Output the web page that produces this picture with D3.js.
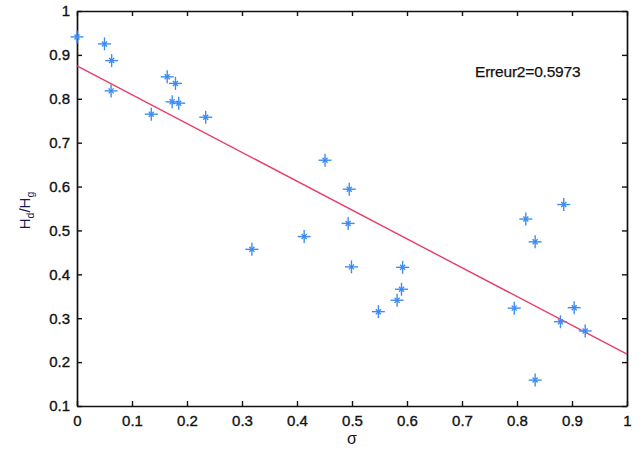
<!DOCTYPE html>
<html>
<head>
<meta charset="utf-8">
<script src="https://cdn.jsdelivr.net/npm/d3@7"></script>
<style>
  html, body { margin: 0; padding: 0; background: #fff; }
  svg { display: block; }
  text { font-family: "Liberation Sans", Arial, sans-serif; }
</style>
</head>
<body>
<svg id="chart" width="643" height="452"></svg>
<script>
// Measured sigma values and the corresponding Hd/Hg ratios
const sigma = [0.000, 0.050, 0.063, 0.062, 0.135, 0.164, 0.179, 0.173, 0.185, 0.234,
               0.318, 0.413, 0.451, 0.495, 0.493, 0.499, 0.548, 0.582, 0.590, 0.592,
               0.795, 0.816, 0.833, 0.833, 0.879, 0.885, 0.904, 0.924];
const ratio = [0.941, 0.925, 0.887, 0.818, 0.765, 0.850, 0.835, 0.793, 0.790, 0.758,
               0.457, 0.486, 0.660, 0.594, 0.516, 0.417, 0.315, 0.341, 0.366, 0.416,
               0.323, 0.526, 0.474, 0.159, 0.292, 0.559, 0.324, 0.271];

// Linear fit: Hd/Hg = intercept + slope * sigma
const fitIntercept = 0.875;
const fitSlope = -0.657;
const fitRange = [0, 1];

const xTicks = [0, 0.1, 0.2, 0.3, 0.4, 0.5, 0.6, 0.7, 0.8, 0.9, 1];
const yTicks = [0.1, 0.2, 0.3, 0.4, 0.5, 0.6, 0.7, 0.8, 0.9, 1];
const errorLabel = "Erreur2=0.5973";

const svg = d3.select("#chart");
const plotLeft = 77, plotRight = 627, plotTop = 11, plotBottom = 406;

const x = d3.scaleLinear().domain([0, 1]).range([plotLeft, plotRight]);
const y = d3.scaleLinear().domain([0.1, 1]).range([plotBottom, plotTop]);

const fmt = d => (d === 0 || d === 1) ? String(d) : d3.format(".1f")(d);

// Axes: ticks point inward, labels on left and bottom only
const ax = svg.append("g").attr("class", "axes");

ax.append("g")
  .attr("transform", `translate(0,${plotBottom})`)
  .call(d3.axisBottom(x).tickValues(xTicks).tickFormat(fmt).tickSizeInner(-5).tickSizeOuter(0).tickPadding(9));
ax.append("g")
  .attr("transform", `translate(0,${plotTop})`)
  .call(d3.axisTop(x).tickValues(xTicks).tickFormat("").tickSizeInner(-5).tickSizeOuter(0));
ax.append("g")
  .attr("transform", `translate(${plotLeft},0)`)
  .call(d3.axisLeft(y).tickValues(yTicks).tickFormat(fmt).tickSizeInner(-5).tickSizeOuter(0).tickPadding(7));
ax.append("g")
  .attr("transform", `translate(${plotRight},0)`)
  .call(d3.axisRight(y).tickValues(yTicks).tickFormat("").tickSizeInner(-5).tickSizeOuter(0));

ax.selectAll(".domain").attr("stroke", "#111").attr("stroke-width", 1.7);
ax.selectAll(".tick line").attr("stroke", "#111").attr("stroke-width", 1.4);
ax.selectAll(".tick text")
  .attr("fill", "#111")
  .attr("stroke", "#111")
  .attr("stroke-width", 0.35)
  .style("font-size", "15px")
  .style("font-family", "'Liberation Sans', Arial, sans-serif");

// Regression line
const line = d3.line().x(d => x(d)).y(d => y(fitIntercept + fitSlope * d));
svg.append("path")
  .datum(fitRange)
  .attr("d", line)
  .attr("fill", "none")
  .attr("stroke", "#ea3b68")
  .attr("stroke-width", 1.4);

// Asterisk markers
const pts = sigma.map((s, i) => ({ s, r: ratio[i] }));
const markers = svg.append("g")
  .attr("stroke", "#3d8cf5")
  .attr("stroke-width", 1.4)
  .selectAll("g")
  .data(pts)
  .join("g")
  .attr("transform", d => `translate(${x(d.s)},${y(d.r)})`);
markers.append("line").attr("x1", -6.5).attr("x2", 6.5).attr("y1", 0).attr("y2", 0);
markers.append("line").attr("x1", 0).attr("x2", 0).attr("y1", -6.5).attr("y2", 6.5);
markers.append("line").attr("x1", -2.5).attr("x2", 2.5).attr("y1", -2.5).attr("y2", 2.5);
markers.append("line").attr("x1", -2.5).attr("x2", 2.5).attr("y1", 2.5).attr("y2", -2.5);

// Annotation
svg.append("text")
  .attr("x", 475).attr("y", 77)
  .attr("fill", "#111")
  .attr("stroke", "#111")
  .attr("stroke-width", 0.25)
  .style("font-size", "15.5px")
  .style("letter-spacing", "-0.2px")
  .text(errorLabel);

// Axis titles
svg.append("text")
  .attr("x", (plotLeft + plotRight) / 2).attr("y", 444)
  .attr("text-anchor", "middle")
  .attr("fill", "#111")
  .style("font-size", "16px")
  .text("σ");

const yl = svg.append("text")
  .attr("transform", `translate(30,${(plotTop + plotBottom) / 2 + 2}) rotate(-90)`)
  .attr("text-anchor", "middle")
  .attr("fill", "#1a1a55")
  .style("font-size", "15px");
yl.append("tspan").text("H");
yl.append("tspan").attr("dy", 4).style("font-size", "10.5px").text("d");
yl.append("tspan").attr("dy", -4).text("/H");
yl.append("tspan").attr("dy", 4).style("font-size", "10.5px").text("g");
</script>
</body>
</html>
